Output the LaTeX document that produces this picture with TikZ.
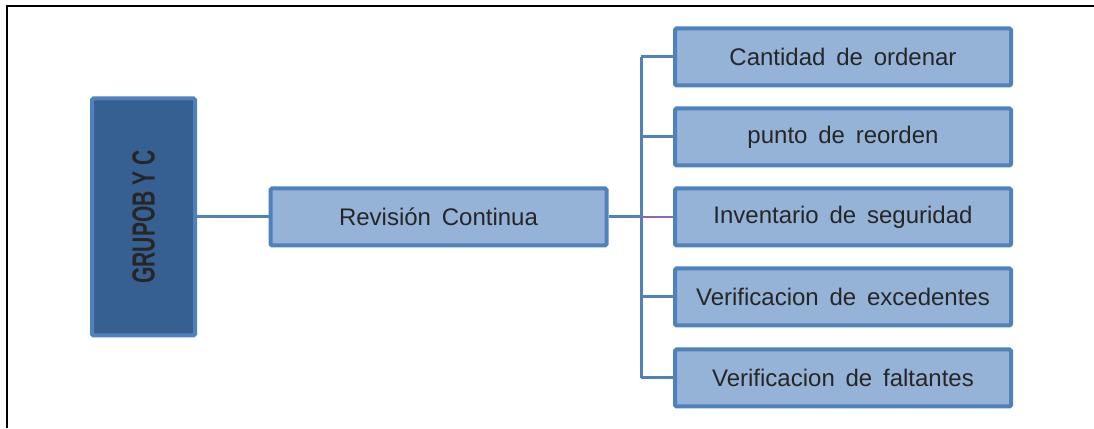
\documentclass[tikz,border=0pt]{standalone}
\usepackage{fontspec}
\setmainfont{Liberation Sans}
\usepackage{graphicx}
\definecolor{edgeblue}{RGB}{79,129,189}
\definecolor{lightfill}{RGB}{149,179,215}
\definecolor{darkfill}{RGB}{55,96,146}
\definecolor{textgray}{RGB}{38,38,38}
\definecolor{linkpurple}{RGB}{150,100,170}
\newcommand{\topicfont}{\fontsize{24}{28}\selectfont\spaceskip=0.45em\relax}
\begin{document}
\begin{tikzpicture}[x=1pt,y=1pt,
  topic/.style={draw=edgeblue, line width=4pt, fill=lightfill, rounded corners=1.5pt,
    minimum width=336pt, minimum height=57pt, inner sep=0pt, text=textgray,
    font=\topicfont},
  rootbox/.style={draw=edgeblue, line width=4pt, fill=darkfill, rounded corners=1.5pt,
    minimum width=103pt, minimum height=237pt, inner sep=0pt},
  link/.style={draw=edgeblue, line width=3pt},
  frame/.style={draw=black, line width=2pt}]
\useasboundingbox (0,0) rectangle (1094,428);
% frame lines along the top and left edges
\coordinate (ftl) at (7,422);
\coordinate (ftr) at (1094,422);
\coordinate (fbl) at (7,0);
\draw[frame] (fbl) -- (ftl) -- (ftr);

% root and second level
\node[rootbox] (root) at (143.5,211) {};
\node[rotate=90, text=black!85, font=\fontsize{32}{34}\selectfont\bfseries] (rootlabel) at (root.center)
  {\scalebox{0.66}[1]{GRUPOB Y C}};
\node[topic] (rev) at (438.5,211) {Revisión Continua};

% third level
\node[topic] (b1) at (843,371) {Cantidad de ordenar};
\node[topic] (b2) at (843,291) {punto de reorden};
\node[topic] (b3) at (843,211) {Inventario de seguridad};
\node[topic] (b4) at (843,131) {Verificacion de excedentes};
\node[topic] (b5) at (843,50) {Verificacion de faltantes};

% connectors
\coordinate (trunk) at (641,211);
\coordinate (t1) at (641,371);
\coordinate (t2) at (641,291);
\coordinate (t4) at (641,131);
\coordinate (t5) at (641,50);
\draw[link] (root.east) -- (rev.west);
\draw[link] (rev.east) -- (trunk);
\draw[link] (t5) -- (t1);
\draw[link] (t1) -- (b1.west);
\draw[link] (t2) -- (b2.west);
\draw[link] (t4) -- (b4.west);
\draw[link] (t5) -- (b5.west);
\draw[draw=linkpurple, line width=2pt] (trunk) -- (b3.west);
\end{tikzpicture}
\end{document}
